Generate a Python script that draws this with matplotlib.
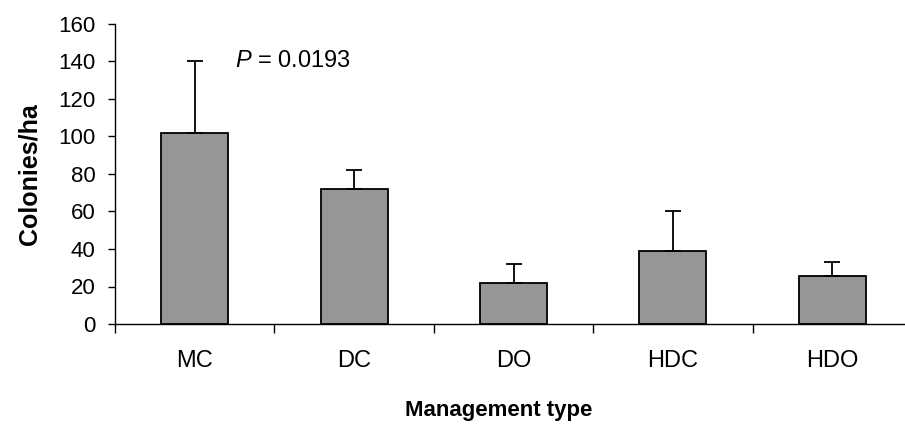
import matplotlib.pyplot as plt
import numpy as np

categories = ["MC", "DC", "DO", "HDC", "HDO"]
colonies = [102, 72, 22, 39, 25.5]
errors = [38, 10, 10, 21, 7.5]
yticks = [0, 20, 40, 60, 80, 100, 120, 140, 160]

plt.rcParams['font.family'] = ['Liberation Sans', 'DejaVu Sans']
plt.rcParams['mathtext.fontset'] = 'custom'
plt.rcParams['mathtext.it'] = 'Liberation Sans:italic'
plt.rcParams['mathtext.rm'] = 'Liberation Sans'

fig = plt.figure(figsize=(9.05, 4.25), dpi=100)
ax = fig.add_axes([115 / 905, 101 / 425, 797 / 905, 300 / 425])

x = np.arange(len(categories))
ax.bar(x, colonies, width=0.42, color="#969696", edgecolor="black", linewidth=1.3, zorder=2)
ax.errorbar(x, colonies, yerr=[np.zeros(len(errors)), errors], fmt="none",
            ecolor="black", elinewidth=1.3, capsize=5.5, capthick=1.3, zorder=3)

ax.set_xlim(-0.5, len(categories) - 0.5)
ax.set_ylim(0, 160)
ax.set_yticks(yticks)

# excel style: ticks between categories, labels in the middle
ax.set_xticks(x)
ax.set_xticklabels(categories)
ax.set_xticks(np.arange(len(categories) + 1) - 0.5, minor=True)
ax.tick_params(axis="x", which="major", length=0, pad=19, labelsize=17)
ax.tick_params(axis="x", which="minor", length=6.5, width=1, direction="out")
ax.tick_params(axis="y", length=5, width=1, direction="out", labelsize=16, pad=9)

ax.spines["top"].set_visible(False)
ax.spines["right"].set_visible(False)
ax.spines["left"].set_linewidth(1)
ax.spines["bottom"].set_linewidth(1)

ax.set_xlabel("Management type", fontsize=16, fontweight="bold", labelpad=20, x=0.482)
ax.set_ylabel("Colonies/ha", fontsize=18, fontweight="bold", labelpad=12)

ax.text(0.255, 140, r"$\it{P}$ = 0.0193", fontsize=17, va="center", ha="left")

fig.savefig("out.png", dpi=100)
